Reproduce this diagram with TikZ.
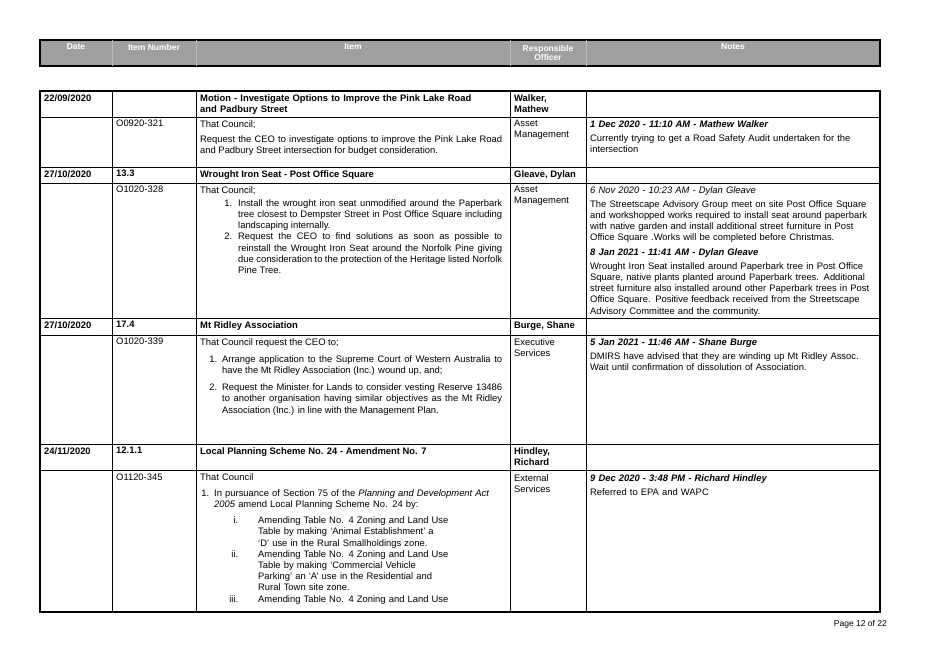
\documentclass[tikz,border=0pt]{standalone}
\usepackage{fontspec}
\setmainfont{Liberation Sans}
\usepackage{enumitem}
\usetikzlibrary{positioning}
\newcommand{\cellfont}{\fontsize{9.4}{11.2}\selectfont\hyphenpenalty=10000\exhyphenpenalty=10000}
\tikzset{
  cell/.style={anchor=north west,inner sep=0pt,align=justify,font=\cellfont},
  bcell/.style={cell,font=\cellfont\bfseries,align=left},
  head/.style={font=\fontsize{8.5}{9.5}\selectfont\bfseries,text=white,align=center},
  rule/.style={line width=0.6pt},
}
\setlist{nosep,leftmargin=22pt,topsep=2pt}
\begin{document}
\begin{tikzpicture}[x=1pt,y=-1pt]
\useasboundingbox (0,0) rectangle (928,656);
% header bar
\fill[gray!75] (40,40) rectangle (880,66);
\draw[line width=1.2pt] (40,40) rectangle (880,66);
\foreach \x in {112,196,510,586} \draw[gray!55] (\x,40) -- (\x,66);
\node[head] (hdate) at (76,47) {Date};
\node[head] (hnum) at (154,47) {Item Number};
\node[head] (hitem) at (353,47) {Item};
\node[head] (hresp) at (548,53) {Responsible\\Officer};
\node[head] (hnotes) at (733,47) {Notes};
% table grid
\foreach \y in {117,167,183,318,335,444,470} \draw[rule] (40,\y) -- (880,\y);
\foreach \x in {112,196,510,586} \draw[rule] (\x,91) -- (\x,612);
\draw[line width=1.2pt] (40,91) rectangle (880,612);
% row 1
\node[bcell] (d1) at (44,94) {22/09/2020};
\node[bcell,text width=290pt] (t1) at (200,94) {Motion - Investigate Options to Improve the Pink Lake Road and Padbury Street};
\node[bcell] (o1) at (514,94) {Walker,\\Mathew};
\node[cell] (n1) at (116,120) {O0920-321};
\node[cell,text width=302pt] (i1) at (200,120) {That Council;\par\vspace{4pt}
Request the CEO to investigate options to improve the Pink Lake Road and Padbury Street intersection for budget consideration.};
\node[cell,align=left] (r1) at (514,120) {Asset\\Management};
\node[cell,text width=280pt,align=left] (m1) at (590,120) {\textbf{\textit{1 Dec 2020 - 11:10 AM - Mathew Walker}}\par\vspace{3pt}
Currently trying to get a Road Safety Audit undertaken for the intersection};
% row 2
\node[bcell] (d2) at (44,170) {27/10/2020};
\node[bcell] (k2) at (116,170) {13.3};
\node[bcell] (t2) at (200,170) {Wrought Iron Seat - Post Office Square};
\node[bcell] (o2) at (514,170) {Gleave, Dylan};
\node[cell] (n2) at (116,186) {O1020-328};
\node[cell,text width=302pt] (i2) at (200,186) {That Council;
\begin{enumerate}[leftmargin=38pt,labelsep=6pt]
\item Install the wrought iron seat unmodified around the Paperbark tree closest to Dempster Street in Post Office Square including landscaping internally.
\item Request the CEO to find solutions as soon as possible to reinstall the Wrought Iron Seat around the Norfolk Pine giving due consideration to the protection of the Heritage listed Norfolk Pine Tree.
\end{enumerate}};
\node[cell,align=left] (r2) at (514,186) {Asset\\Management};
\node[cell,text width=288pt,align=left] (m2) at (590,186) {\textit{6 Nov 2020 - 10:23 AM - Dylan Gleave}\par\vspace{3pt}
The Streetscape Advisory Group meet on site Post Office Square and workshopped works required to install seat around paperbark with native garden and install additional street furniture in Post Office Square .Works will be completed before Christmas.\par\vspace{3pt}
\textbf{\textit{8 Jan 2021 - 11:41 AM - Dylan Gleave}}\par\vspace{3pt}
Wrought Iron Seat installed around Paperbark tree in Post Office Square, native plants planted around Paperbark trees. Additional street furniture also installed around other Paperbark trees in Post Office Square. Positive feedback received from the Streetscape Advisory Committee and the community.};
% row 3
\node[bcell] (d3) at (44,321) {27/10/2020};
\node[bcell] (k3) at (116,321) {17.4};
\node[bcell] (t3) at (200,321) {Mt Ridley Association};
\node[bcell] (o3) at (514,321) {Burge, Shane};
\node[cell] (n3) at (116,338) {O1020-339};
\node[cell,text width=302pt] (i3) at (200,338) {That Council request the CEO to;
\begin{enumerate}[leftmargin=22pt,topsep=6pt,itemsep=6pt]
\item Arrange application to the Supreme Court of Western Australia to have the Mt Ridley Association (Inc.) wound up, and;
\item Request the Minister for Lands to consider vesting Reserve 13486 to another organisation having similar objectives as the Mt Ridley Association (Inc.) in line with the Management Plan.
\end{enumerate}};
\node[cell,align=left] (r3) at (514,338) {Executive\\Services};
\node[cell,text width=288pt,align=left] (m3) at (590,338) {\textbf{\textit{5 Jan 2021 - 11:46 AM - Shane Burge}}\par\vspace{3pt}
DMIRS have advised that they are winding up Mt Ridley Assoc. Wait until confirmation of dissolution of Association.};
% row 4
\node[bcell] (d4) at (44,447) {24/11/2020};
\node[bcell] (k4) at (116,447) {12.1.1};
\node[bcell] (t4) at (200,447) {Local Planning Scheme No. 24 - Amendment No. 7};
\node[bcell] (o4) at (514,447) {Hindley,\\Richard};
\node[cell] (n4) at (116,474) {O1120-345};
\node[cell,text width=302pt,align=left] (i4) at (200,473) {That Council
\begin{enumerate}[leftmargin=14pt,topsep=5pt]
\item In pursuance of Section 75 of the \textit{Planning and Development Act 2005} amend Local Planning Scheme No. 24 by:
\begin{enumerate}[label=\roman*.,leftmargin=44pt,topsep=5pt,labelsep=20pt]
\item Amending Table No. 4 Zoning and Land Use\\Table by making `Animal Establishment' a\\`D' use in the Rural Smallholdings zone.
\item Amending Table No. 4 Zoning and Land Use\\Table by making `Commercial Vehicle\\Parking' an `A' use in the Residential and\\Rural Town site zone.
\item Amending Table No. 4 Zoning and Land Use
\end{enumerate}
\end{enumerate}};
\node[cell,align=left] (r4) at (514,474) {External\\Services};
\node[cell,text width=288pt,align=left] (m4) at (590,474) {\textbf{\textit{9 Dec 2020 - 3:48 PM - Richard Hindley}}\par\vspace{3pt}
Referred to EPA and WAPC};
% footer
\node[cell,font=\fontsize{8.5}{9}\selectfont,anchor=north east] (page) at (887,620) {Page 12 of 22};
\end{tikzpicture}
\end{document}
